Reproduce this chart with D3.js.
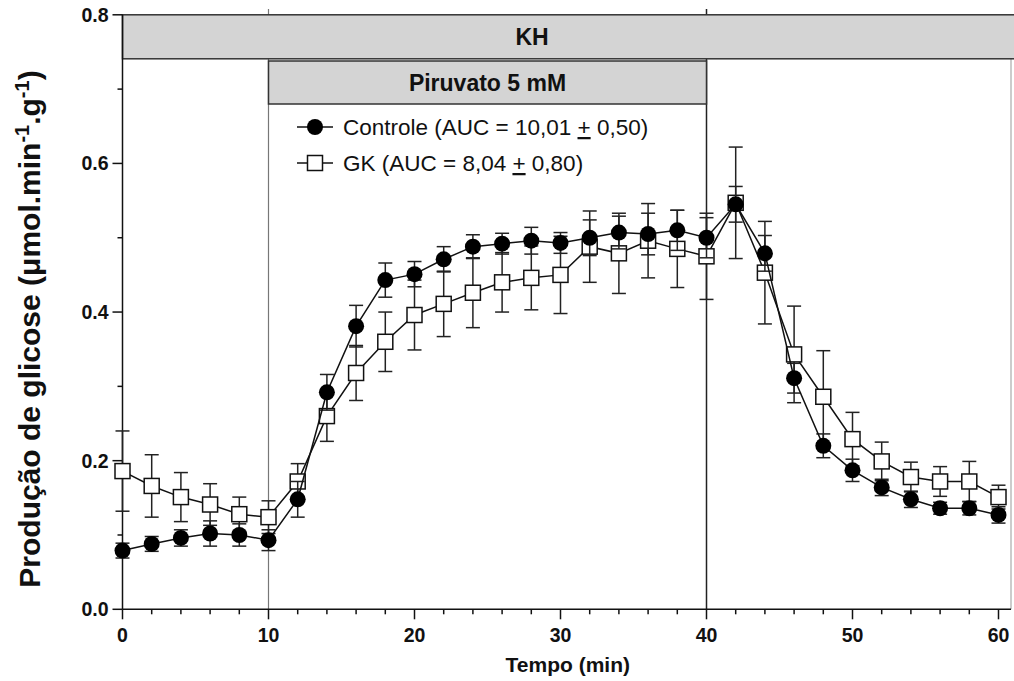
<!DOCTYPE html>
<html><head><meta charset="utf-8">
<script src="https://cdn.jsdelivr.net/npm/d3@7"></script>
<style>body{margin:0;background:#fff}svg{display:block}</style>
</head><body>
<svg id="c" width="1014" height="681"></svg>
<script>
const time = [0,2,4,6,8,10,12,14,16,18,20,22,24,26,28,30,32,34,36,38,40,42,44,46,48,50,52,54,56,58,60];
const controle = [0.079,0.088,0.096,0.102,0.100,0.093,0.148,0.292,0.381,0.443,0.451,0.471,0.488,0.492,0.496,0.493,0.500,0.507,0.505,0.510,0.500,0.545,0.479,0.311,0.220,0.187,0.164,0.148,0.136,0.136,0.127];
const controleErr = [0.010,0.010,0.011,0.017,0.015,0.014,0.024,0.024,0.028,0.023,0.017,0.017,0.016,0.014,0.018,0.014,0.024,0.022,0.028,0.027,0.027,0.024,0.024,0.020,0.016,0.015,0.011,0.011,0.008,0.009,0.011];
const gk = [0.186,0.166,0.151,0.141,0.128,0.124,0.172,0.260,0.318,0.360,0.396,0.411,0.426,0.440,0.446,0.450,0.488,0.479,0.496,0.485,0.475,0.547,0.453,0.343,0.286,0.229,0.199,0.178,0.172,0.172,0.151];
const gkErr = [0.054,0.042,0.033,0.028,0.023,0.022,0.024,0.034,0.037,0.040,0.047,0.044,0.047,0.040,0.043,0.052,0.048,0.054,0.050,0.052,0.058,0.075,0.069,0.065,0.062,0.036,0.026,0.020,0.020,0.027,0.016];
const xMajor = [0,10,20,30,40,50,60];
const xMinor = [2,4,6,8,12,14,16,18,22,24,26,28,32,34,36,38,42,44,46,48,52,54,56,58];
const yMajor = [0,0.2,0.4,0.6,0.8];
const yMinor = [0.1,0.3,0.5,0.7];
const legendLabels = ["Controle (AUC = 10,01 ", "GK (AUC = 8,04 "];
const legendTails = [" 0,50)", " 0,80)"];
const periods = [{label:"KH", from:0, to:62, row:0},{label:"Piruvato 5 mM", from:10, to:40, row:1}];
const markTimes = [10, 40];

const FONT = "'Liberation Sans', Arial, Helvetica, sans-serif";
const svg = d3.select("#c");
const x = d3.scaleLinear().domain([0,60]).range([122.5,998.5]);
const y = d3.scaleLinear().domain([0,0.8]).range([609.3,14.8]);
const xEnd = 1011;

// vertical reference lines
svg.selectAll("line.mark").data(markTimes).enter().append("line")
  .attr("x1", d=>x(d)).attr("x2", d=>x(d)).attr("y1", 9).attr("y2", y(0))
  .attr("stroke", d=> d===40 ? "#222" : "#777").attr("stroke-width", d=> d===40 ? 1.5 : 1.2);
// right border
svg.append("line").attr("x1", xEnd).attr("x2", xEnd).attr("y1", y(0.8)).attr("y2", y(0))
  .attr("stroke","#aaa").attr("stroke-width",1.2);

// period boxes
const rowTop = [y(0.8), 61], rowH = [44, 43];
periods.forEach(p=>{
  const x0 = x(p.from), x1 = Math.min(x(p.to), 1016);
  svg.append("rect").attr("x", x0).attr("y", rowTop[p.row]).attr("width", x1-x0).attr("height", rowH[p.row])
    .attr("fill","#d4d4d4").attr("stroke","#333").attr("stroke-width",1.5);
  const cx = p.row===0 ? 532 : (x(p.from)+x(p.to))/2;
  svg.append("text").attr("x", cx).attr("y", rowTop[p.row]+rowH[p.row]/2+8)
    .attr("text-anchor","middle").attr("font-family",FONT).attr("font-weight","bold")
    .attr("font-size",23).attr("fill","#111").text(p.label);
});

// axes
const axisG = svg.append("g").attr("stroke","#111").attr("stroke-width",1.5);
axisG.append("line").attr("x1", x(0)).attr("x2", xEnd).attr("y1", y(0)).attr("y2", y(0));
axisG.append("line").attr("x1", x(0)).attr("x2", x(0)).attr("y1", y(0.8)).attr("y2", y(0));
axisG.selectAll("line.xM").data(xMajor).enter().append("line")
  .attr("x1", d=>x(d)).attr("x2", d=>x(d)).attr("y1", y(0)).attr("y2", y(0)+10);
axisG.selectAll("line.xm").data(xMinor).enter().append("line")
  .attr("x1", d=>x(d)).attr("x2", d=>x(d)).attr("y1", y(0)).attr("y2", y(0)+5);
axisG.selectAll("line.yM").data(yMajor).enter().append("line")
  .attr("x1", x(0)-10).attr("x2", x(0)).attr("y1", d=>y(d)).attr("y2", d=>y(d));
axisG.selectAll("line.ym").data(yMinor).enter().append("line")
  .attr("x1", x(0)-5).attr("x2", x(0)).attr("y1", d=>y(d)).attr("y2", d=>y(d));

svg.selectAll("text.xt").data(xMajor).enter().append("text")
  .attr("x", d=>x(d)).attr("y", y(0)+33).attr("text-anchor","middle")
  .attr("font-family",FONT).attr("font-weight","bold").attr("font-size",19.5).attr("fill","#111")
  .text(d=>d);
svg.selectAll("text.yt").data(yMajor).enter().append("text")
  .attr("x", x(0)-14).attr("y", d=>y(d)+7).attr("text-anchor","end")
  .attr("font-family",FONT).attr("font-weight","bold").attr("font-size",19.5).attr("fill","#111")
  .text(d=>d.toFixed(1));

svg.append("text").attr("x", (x(0)+xEnd)/2+1).attr("y", 672).attr("text-anchor","middle")
  .attr("font-family",FONT).attr("font-weight","bold").attr("font-size",21).attr("fill","#111")
  .text("Tempo (min)");

const yt = svg.append("text").attr("transform","translate(40,329) rotate(-90)").attr("text-anchor","middle")
  .attr("font-family",FONT).attr("font-weight","bold").attr("font-size",30).attr("fill","#111");
yt.append("tspan").text("Produção de glicose (μmol.min");
yt.append("tspan").attr("font-size",20).attr("dy",-11).text("-1");
yt.append("tspan").attr("dy",11).text(".g");
yt.append("tspan").attr("font-size",20).attr("dy",-11).text("-1");
yt.append("tspan").attr("dy",11).text(")");

// series
const series = [
  {name:"gk", vals:gk, err:gkErr, shape:"square"},
  {name:"controle", vals:controle, err:controleErr, shape:"circle"}
];
const line = d3.line().x((d,i)=>x(time[i])).y(d=>y(d));
series.forEach(s=>{
  const g = svg.append("g");
  const pts = s.vals.map((v,i)=>({t:time[i], v, e:s.err[i]}));
  const eb = g.append("g").attr("stroke","#222").attr("stroke-width",1.5);
  eb.selectAll("line.v").data(pts).enter().append("line")
    .attr("x1",d=>x(d.t)).attr("x2",d=>x(d.t)).attr("y1",d=>y(d.v+d.e)).attr("y2",d=>y(d.v-d.e));
  eb.selectAll("line.t").data(pts).enter().append("line")
    .attr("x1",d=>x(d.t)-7).attr("x2",d=>x(d.t)+7).attr("y1",d=>y(d.v+d.e)).attr("y2",d=>y(d.v+d.e));
  eb.selectAll("line.b").data(pts).enter().append("line")
    .attr("x1",d=>x(d.t)-7).attr("x2",d=>x(d.t)+7).attr("y1",d=>y(d.v-d.e)).attr("y2",d=>y(d.v-d.e));
  g.append("path").attr("d", line(s.vals)).attr("fill","none").attr("stroke","#111").attr("stroke-width",1.5);
  if(s.shape==="circle"){
    g.selectAll("circle").data(pts).enter().append("circle")
      .attr("cx",d=>x(d.t)).attr("cy",d=>y(d.v)).attr("r",8).attr("fill","#000");
  } else {
    g.selectAll("rect").data(pts).enter().append("rect")
      .attr("x",d=>x(d.t)-7.5).attr("y",d=>y(d.v)-7.5).attr("width",15).attr("height",15)
      .attr("fill","#fff").attr("stroke","#111").attr("stroke-width",1.5);
  }
});

// legend
const legY = [127, 163];
[1,0].forEach(k=>{
  const s = series[k]; const idx = k===1 ? 0 : 1; const ly = legY[idx];
  const lg = svg.append("g");
  lg.append("line").attr("x1",297).attr("x2",333).attr("y1",ly).attr("y2",ly).attr("stroke","#111").attr("stroke-width",1.5);
  if(s.shape==="circle") lg.append("circle").attr("cx",315).attr("cy",ly).attr("r",8).attr("fill","#000");
  else lg.append("rect").attr("x",307.5).attr("y",ly-7.5).attr("width",15).attr("height",15).attr("fill","#fff").attr("stroke","#111").attr("stroke-width",1.5);
  const t = lg.append("text").attr("x",343).attr("y",ly+8).attr("font-family",FONT).attr("font-size",22.5).attr("fill","#111");
  t.append("tspan").text(legendLabels[idx]);
  t.append("tspan").attr("text-decoration","underline").text("+");
  t.append("tspan").text(legendTails[idx]);
});
</script>
</body></html>
